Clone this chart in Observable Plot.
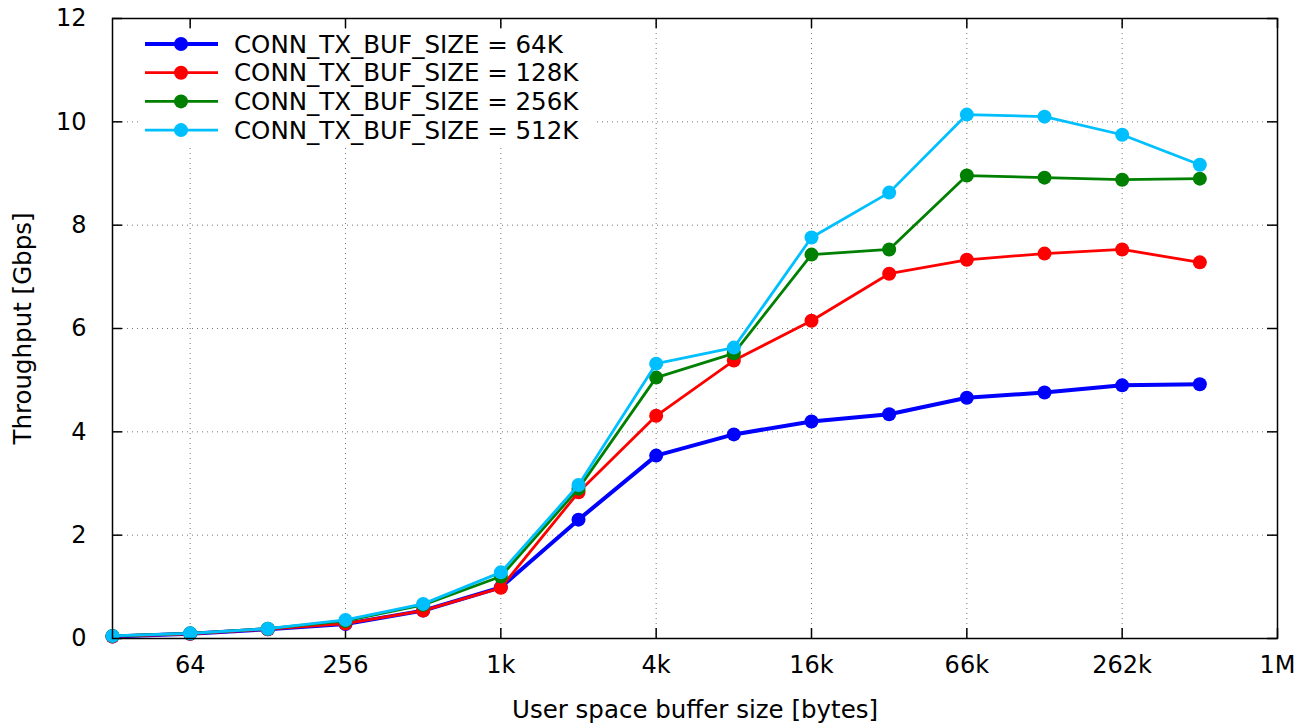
<!DOCTYPE html>
<html>
<head>
<meta charset="utf-8">
<script src="https://cdn.jsdelivr.net/npm/d3@7"></script>
<script src="https://cdn.jsdelivr.net/npm/@observablehq/plot@0.6"></script>
<style>
  html, body { margin: 0; padding: 0; background: #fff; }
  #chart svg { display: block; }
</style>
</head>
<body>
<div id="chart"></div>
<script>
// ---- data ----
const sizes = [32, 64, 128, 256, 512, 1024, 2048, 4096, 8192, 16384, 32768, 65536, 131072, 262144, 524288];
const seriesNames = ["CONN_TX_BUF_SIZE = 64K", "CONN_TX_BUF_SIZE = 128K", "CONN_TX_BUF_SIZE = 256K", "CONN_TX_BUF_SIZE = 512K"];
const tx64K  = [0.04, 0.09, 0.18, 0.28, 0.54, 0.99, 2.30, 3.54, 3.95, 4.20, 4.34, 4.66, 4.76, 4.90, 4.92];
const tx128K = [0.04, 0.09, 0.18, 0.29, 0.54, 0.98, 2.83, 4.31, 5.38, 6.15, 7.06, 7.33, 7.45, 7.53, 7.28];
const tx256K = [0.05, 0.10, 0.19, 0.34, 0.65, 1.20, 2.90, 5.05, 5.52, 7.43, 7.53, 8.96, 8.92, 8.88, 8.90];
const tx512K = [0.05, 0.10, 0.19, 0.36, 0.67, 1.28, 2.97, 5.32, 5.63, 7.76, 8.63, 10.14, 10.10, 9.75, 9.17];
const seriesValues = [tx64K, tx128K, tx256K, tx512K];
const xTicks = [64, 256, 1024, 4096, 16384, 65536, 262144, 1048576];
const xTickLabels = ["64", "256", "1k", "4k", "16k", "66k", "262k", "1M"];
const yTicks = [0, 2, 4, 6, 8, 10, 12];
const xTitle = "User space buffer size [bytes]";
const yTitle = "Throughput [Gbps]";

// ---- styles ----
const colors = ["#0000ff", "#ff0000", "#008000", "#00bfff"];
const widths = [4, 2.8, 2.8, 2.8];

const table = [];
seriesNames.forEach((name, s) => {
  sizes.forEach((x, i) => table.push({series: name, s, x, y: seriesValues[s][i]}));
});

const W = 1297, H = 723;
const mL = 112, mR = 20, mT = 18, mB = 85;
const innerH = H - mT - mB, innerW = W - mL - mR;
const tickLen = 10;
const font = "DejaVu Sans";
const fs = 24;

const marks = [
  Plot.gridX(xTicks, {stroke: "#777", strokeOpacity: 1, strokeWidth: 1, strokeDasharray: "1,4"}),
  Plot.gridY(yTicks, {stroke: "#777", strokeOpacity: 1, strokeWidth: 1, strokeDasharray: "1,4"}),
  Plot.tickX(xTicks, {x: d => d, insetTop: innerH - tickLen, stroke: "black", strokeWidth: 1.5}),
  Plot.tickX(xTicks, {x: d => d, insetBottom: innerH - tickLen, stroke: "black", strokeWidth: 1.5}),
  Plot.tickY(yTicks, {y: d => d, insetRight: innerW - tickLen, stroke: "black", strokeWidth: 1.5}),
  Plot.tickY(yTicks, {y: d => d, insetLeft: innerW - tickLen, stroke: "black", strokeWidth: 1.5}),
  Plot.axisX(xTicks, {tickSize: 0, tickPadding: 17, tickFormat: d => xTickLabels[xTicks.indexOf(d)], label: null, fontSize: fs}),
  Plot.axisY(yTicks, {tickSize: 0, tickPadding: 26, tickFormat: d => String(d), label: null, fontSize: fs}),
  Plot.text([xTitle], {frameAnchor: "bottom", dy: 72, lineAnchor: "middle", textAnchor: "middle", fontSize: 24.5}),
  Plot.text([yTitle], {frameAnchor: "left", dx: -89, rotate: -90, lineAnchor: "middle", textAnchor: "middle", fontSize: 24.5}),
];
seriesNames.forEach((name, s) => {
  const d = table.filter(r => r.s === s);
  marks.push(Plot.line(d, {x: "x", y: "y", stroke: colors[s], strokeWidth: widths[s]}));
  marks.push(Plot.dot(d, {x: "x", y: "y", fill: colors[s], r: 7}));
});
marks.push(Plot.frame({stroke: "black", strokeWidth: 1.5}));

const chart = Plot.plot({
  width: W, height: H,
  marginLeft: mL, marginRight: mR, marginTop: mT, marginBottom: mB,
  style: {fontFamily: font, fontSize: fs + "px", color: "black", background: "white"},
  x: {type: "log", base: 2, domain: [32, 1048576]},
  y: {domain: [0, 12]},
  marks
});

// ---- legend inside the plot ----
const svg = d3.select(chart);
const lg = svg.append("g").attr("font-family", font).attr("font-size", 24.5).attr("text-anchor", "start");
lg.append("rect").attr("x", 138).attr("y", 29).attr("width", 457).attr("height", 116).attr("fill", "white");
seriesNames.forEach((name, s) => {
  const cy = 44 + s * 28.7;
  lg.append("line").attr("x1", 145).attr("x2", 218).attr("y1", cy).attr("y2", cy)
    .attr("stroke", colors[s]).attr("stroke-width", widths[s]);
  lg.append("circle").attr("cx", 181).attr("cy", cy).attr("r", 7).attr("fill", colors[s]);
  lg.append("text").attr("x", 234).attr("y", cy).attr("dy", "0.35em").attr("text-anchor", "start")
    .attr("fill", "black").text(name);
});
// keep frame on top of legend
const frameNode = svg.select("[aria-label=frame]").node();
if (frameNode) chart.appendChild(frameNode);

document.getElementById("chart").appendChild(chart);
</script>
</body>
</html>
